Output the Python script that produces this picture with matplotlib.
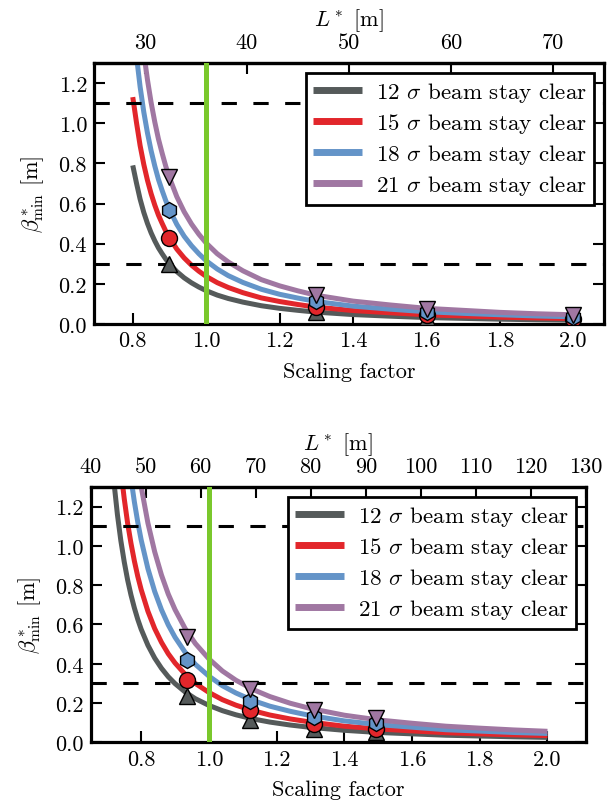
import matplotlib
matplotlib.use("Agg")
import matplotlib.pyplot as plt

plt.rcParams['font.family'] = 'cmr10'
plt.rcParams['mathtext.fontset'] = 'cm'
plt.rcParams['axes.unicode_minus'] = False
plt.rcParams['axes.formatter.use_mathtext'] = True

# ---------------- data ----------------
sigma_labels = [r"12 $\sigma$ beam stay clear", r"15 $\sigma$ beam stay clear",
                r"18 $\sigma$ beam stay clear", r"21 $\sigma$ beam stay clear"]

# top panel
L0_top = 36.0
scale_top = [0.80, 0.81, 0.82, 0.83, 0.84, 0.85, 0.86, 0.87, 0.88, 0.89, 0.90,
             0.92, 0.94, 0.96, 0.98, 1.00, 1.03, 1.06, 1.10, 1.15, 1.20, 1.25,
             1.30, 1.40, 1.50, 1.60, 1.70, 1.80, 1.90, 2.00]
beta_top_12 = [0.790, 0.703, 0.622, 0.556, 0.501, 0.454, 0.414, 0.379, 0.350, 0.323, 0.300,
               0.261, 0.230, 0.205, 0.184, 0.166, 0.144, 0.127, 0.109, 0.091, 0.078, 0.068,
               0.059, 0.047, 0.039, 0.032, 0.028, 0.024, 0.021, 0.019]
beta_top_15 = [1.130, 1.005, 0.889, 0.795, 0.716, 0.649, 0.592, 0.542, 0.501, 0.462, 0.429,
               0.373, 0.329, 0.293, 0.263, 0.237, 0.206, 0.182, 0.156, 0.130, 0.112, 0.097,
               0.084, 0.067, 0.056, 0.046, 0.040, 0.034, 0.030, 0.027]
beta_top_18 = [1.501, 1.336, 1.182, 1.056, 0.952, 0.863, 0.787, 0.720, 0.665, 0.614, 0.570,
               0.496, 0.437, 0.390, 0.350, 0.315, 0.274, 0.241, 0.207, 0.173, 0.148, 0.129,
               0.112, 0.089, 0.074, 0.061, 0.053, 0.046, 0.040, 0.036]
beta_top_21 = [1.920, 1.708, 1.511, 1.351, 1.217, 1.103, 1.006, 0.921, 0.851, 0.785, 0.729,
               0.634, 0.559, 0.498, 0.447, 0.403, 0.350, 0.309, 0.265, 0.221, 0.190, 0.165,
               0.143, 0.114, 0.095, 0.078, 0.068, 0.058, 0.051, 0.046]
mk_scale_top = [0.9, 1.3, 1.6, 2.0]
mk_top_12 = [0.30, 0.060, 0.030, 0.018]
mk_top_15 = [0.43, 0.085, 0.044, 0.026]
mk_top_18 = [0.57, 0.115, 0.058, 0.034]
mk_top_21 = [0.73, 0.145, 0.073, 0.045]
Lticks_top = [30, 40, 50, 60, 70]

# bottom panel
L0_bot = 61.5
scale_bot = [0.70, 0.71, 0.72, 0.73, 0.74, 0.75, 0.76, 0.77, 0.78, 0.79, 0.80,
             0.82, 0.84, 0.86, 0.88, 0.90, 0.93, 0.96, 1.00, 1.04, 1.08, 1.13,
             1.18, 1.24, 1.30, 1.40, 1.50, 1.60, 1.70, 1.80, 1.90, 2.00]
beta_bot_12 = [1.772, 1.518, 1.319, 1.158, 1.027, 0.919, 0.827, 0.750, 0.684, 0.626, 0.576,
               0.494, 0.429, 0.377, 0.334, 0.299, 0.256, 0.222, 0.188, 0.161, 0.140, 0.119,
               0.103, 0.088, 0.076, 0.061, 0.050, 0.043, 0.036, 0.032, 0.028, 0.025]
beta_bot_15 = [2.392, 2.049, 1.781, 1.563, 1.386, 1.241, 1.116, 1.013, 0.923, 0.845, 0.778,
               0.667, 0.579, 0.509, 0.451, 0.404, 0.346, 0.300, 0.254, 0.217, 0.189, 0.161,
               0.139, 0.119, 0.103, 0.082, 0.068, 0.058, 0.049, 0.043, 0.038, 0.034]
beta_bot_18 = [3.172, 2.717, 2.361, 2.073, 1.838, 1.645, 1.480, 1.343, 1.224, 1.121, 1.031,
               0.884, 0.768, 0.675, 0.598, 0.535, 0.458, 0.397, 0.337, 0.288, 0.251, 0.213,
               0.184, 0.158, 0.136, 0.109, 0.090, 0.077, 0.064, 0.057, 0.050, 0.045]
beta_bot_21 = [4.005, 3.431, 2.981, 2.617, 2.321, 2.077, 1.869, 1.695, 1.546, 1.415, 1.302,
               1.116, 0.970, 0.852, 0.755, 0.676, 0.579, 0.503, 0.425, 0.363, 0.316, 0.269,
               0.233, 0.199, 0.172, 0.138, 0.114, 0.097, 0.082, 0.072, 0.063, 0.056]
mk_scale_bot = [0.935, 1.12, 1.31, 1.495]
mk_bot_12 = [0.235, 0.115, 0.068, 0.050]
mk_bot_15 = [0.318, 0.162, 0.095, 0.068]
mk_bot_18 = [0.42, 0.21, 0.128, 0.097]
mk_bot_21 = [0.535, 0.27, 0.165, 0.122]
Lticks_bot = [40, 50, 60, 70, 80, 90, 100, 110, 120, 130]

hlines_beta = [0.3, 1.1]
x_ticks = [0.8, 1.0, 1.2, 1.4, 1.6, 1.8, 2.0]
y_ticks = [0.0, 0.2, 0.4, 0.6, 0.8, 1.0, 1.2]

# ---------------- style ----------------
colors = ['#555a5a', '#e2262b', '#6494c8', '#a077a2']
markers = ['^', 'o', 'h', 'v']
green = '#7ac82c'
FS = 16
FS_LEG = 16.6


def panel(rect, L0, Lrange, s, curves, ms, mks, Lticks):
    ax = fig.add_axes(rect)
    for c, y, lab in zip(colors, curves, sigma_labels):
        ax.plot(s, y, color=c, lw=3.6, label=lab, zorder=2, solid_capstyle='butt',
                solid_joinstyle='round')
    for yv in hlines_beta:
        ax.axhline(yv, color='black', lw=2.2, dashes=(5.0, 5.4), zorder=3)
    ax.axvline(1.0, color=green, lw=3.6, zorder=3)
    for c, m, y in zip(colors, markers, mks):
        ax.plot(ms, y, linestyle='none', marker=m, ms=11.5, mfc=c, mec='black',
                mew=1.0, zorder=4)
    ax.set_xlim(Lrange[0] / L0, Lrange[1] / L0)
    ax.set_ylim(0, 1.3)
    ax.set_xticks(x_ticks)
    ax.set_yticks(y_ticks)
    ax.set_xticklabels(['%.1f' % v for v in x_ticks])
    ax.set_yticklabels(['%.1f' % v for v in y_ticks])
    ax.tick_params(axis='both', direction='in', length=8, width=1.5, labelsize=FS)
    ax.tick_params(axis='x', pad=5, top=False)
    ax.tick_params(axis='y', pad=5, right=True)
    for sp in ax.spines.values():
        sp.set_linewidth(2.3)
    ax.set_xlabel('Scaling factor', fontsize=FS, labelpad=8)
    ax.set_ylabel(r'$\beta^*_{\mathrm{min}}$ [m]', fontsize=FS, labelpad=9)
    sec = ax.secondary_xaxis('top', functions=(lambda x: x * L0, lambda x: x / L0))
    sec.set_xticks(Lticks)
    sec.set_xticklabels([str(v) for v in Lticks])
    sec.tick_params(direction='in', length=8, width=1.5, labelsize=FS, pad=8)
    sec.spines['top'].set_linewidth(2.3)
    sec.set_xlabel(r'$L^*$ [m]', fontsize=FS, labelpad=5)
    leg = ax.legend(loc='upper right', fontsize=FS_LEG, handlelength=2.1,
                    handletextpad=0.6, labelspacing=0.3, borderpad=0.33,
                    borderaxespad=0.42,
                    fancybox=False, framealpha=1.0, edgecolor='black')
    leg.get_frame().set_linewidth(2.0)
    for h in leg.get_lines():
        h.set_linewidth(5.0)
    return ax


fig = plt.figure(figsize=(6.16, 8.04), dpi=100)
W, H = 616.0, 804.0
panel([94 / W, (H - 325) / H, (604 - 94) / W, 261 / H], L0_top, (25, 75),
      scale_top, [beta_top_12, beta_top_15, beta_top_18, beta_top_21],
      mk_scale_top, [mk_top_12, mk_top_15, mk_top_18, mk_top_21], Lticks_top)
panel([90.5 / W, (H - 743.3) / H, (586 - 90.5) / W, 255.3 / H], L0_bot, (40, 130),
      scale_bot, [beta_bot_12, beta_bot_15, beta_bot_18, beta_bot_21],
      mk_scale_bot, [mk_bot_12, mk_bot_15, mk_bot_18, mk_bot_21], Lticks_bot)

fig.savefig('out.png', dpi=100)
